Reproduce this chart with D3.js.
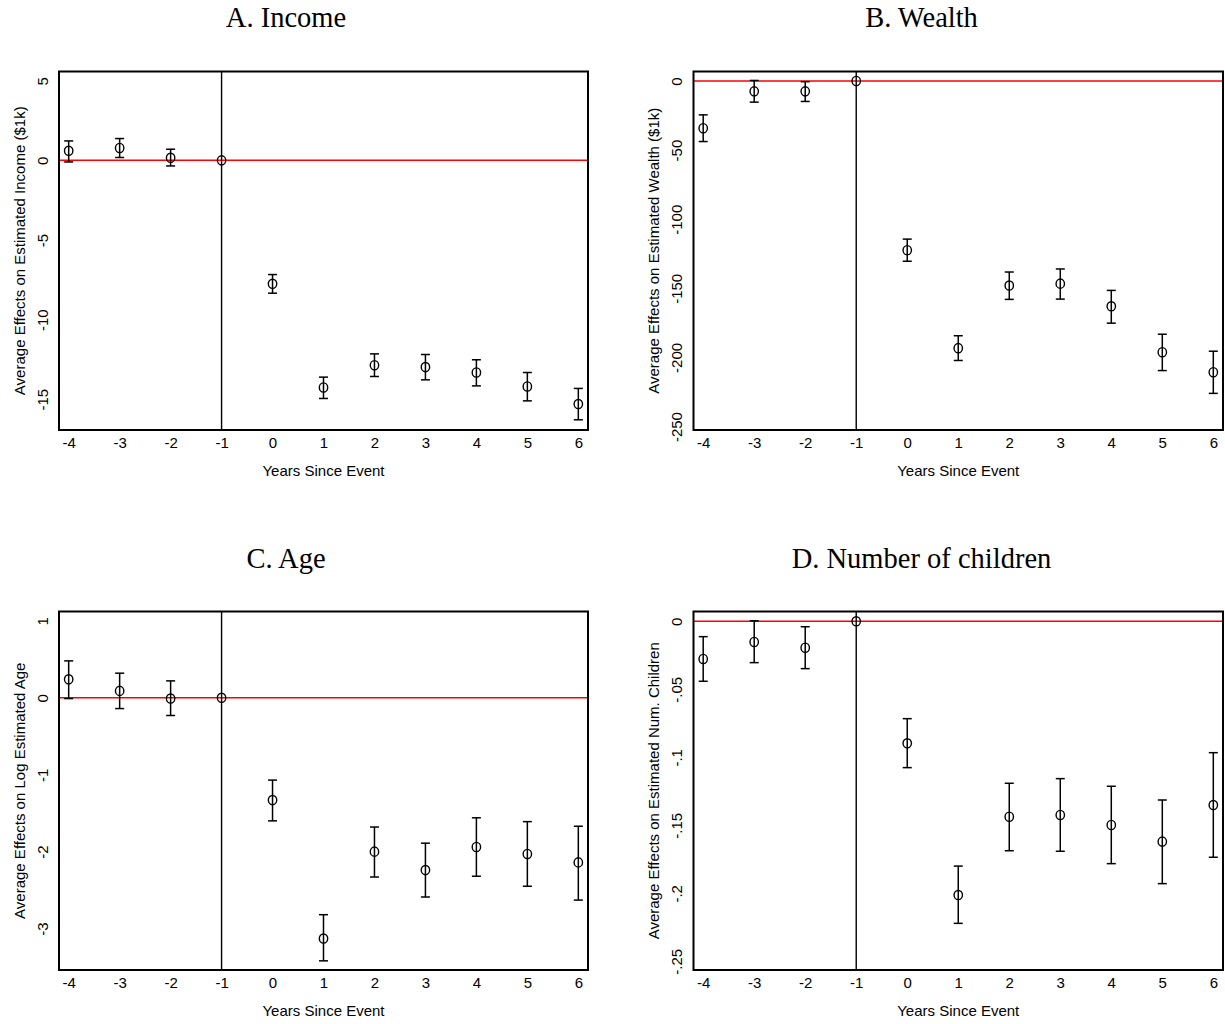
<!DOCTYPE html>
<html>
<head>
<meta charset="utf-8">
<script src="https://cdn.jsdelivr.net/npm/d3@7"></script>
<style>
  html, body { margin: 0; padding: 0; background: #fff; }
  svg { display: block; }
</style>
</head>
<body>
<svg id="chart" width="1225" height="1024"></svg>
<script>
// Event-study estimates, years relative to the event (-1 is the reference year)
const years = [-4, -3, -2, -1, 0, 1, 2, 3, 4, 5, 6];

const incomeEst = [0.6, 0.78, 0.16, 0, -7.75, -14.26, -12.86, -12.98, -13.32, -14.2, -15.3];
const incomeLo  = [-0.1, 0.18, -0.35, 0, -8.34, -14.95, -13.57, -13.78, -14.16, -15.1, -16.29];
const incomeHi  = [1.22, 1.37, 0.7, 0, -7.17, -13.61, -12.15, -12.19, -12.52, -13.32, -14.32];

const wealthEst = [-34.2, -7.5, -7.5, 0, -122.4, -193.3, -148, -146.6, -163, -196.2, -210.7];
const wealthLo  = [-43.8, -15.3, -14.8, 0, -130.4, -202.2, -158, -157.8, -175.2, -209.5, -226];
const wealthHi  = [-24.5, 0.4, -0.5, 0, -114.4, -184.3, -138.2, -136, -151.5, -183.2, -195.5];

const ageEst = [0.24, 0.09, -0.01, 0, -1.33, -3.13, -2.0, -2.24, -1.94, -2.03, -2.14];
const ageLo  = [-0.01, -0.14, -0.23, 0, -1.6, -3.42, -2.33, -2.59, -2.32, -2.45, -2.63];
const ageHi  = [0.48, 0.32, 0.22, 0, -1.07, -2.82, -1.68, -1.89, -1.56, -1.61, -1.67];

const kidsEst = [-0.0277, -0.0152, -0.0194, 0, -0.0897, -0.2013, -0.1437, -0.1424, -0.1498, -0.162, -0.1351];
const kidsLo  = [-0.0441, -0.0304, -0.0348, 0, -0.1076, -0.2221, -0.1687, -0.1691, -0.1782, -0.1929, -0.1735];
const kidsHi  = [-0.0113, 0.0004, -0.004, 0, -0.0716, -0.18, -0.1191, -0.1157, -0.1213, -0.1314, -0.0966];

const incomeTicks = [5, 0, -5, -10, -15];
const wealthTicks = [0, -50, -100, -150, -200, -250];
const ageTicks = [1, 0, -1, -2, -3];
const kidsTicks = [0, -0.05, -0.1, -0.15, -0.2, -0.25];
const kidsTickLabels = ["0", "-.05", "-.1", "-.15", "-.2", "-.25"];

const xTitle = "Years Since Event";

const panels = [
  { title: "A. Income", ytitle: "Average Effects on Estimated Income ($1k)",
    est: incomeEst, lo: incomeLo, hi: incomeHi, ticks: incomeTicks, labels: null,
    ydom: [-16.93, 5.58], box: [59, 71.5, 588, 430], tx: 286, ty: 27 },
  { title: "B. Wealth", ytitle: "Average Effects on Estimated Wealth ($1k)",
    est: wealthEst, lo: wealthLo, hi: wealthHi, ticks: wealthTicks, labels: null,
    ydom: [-252.5, 6.87], box: [693.5, 71.5, 1223, 430], tx: 921.5, ty: 27 },
  { title: "C. Age", ytitle: "Average Effects on Log Estimated Age",
    est: ageEst, lo: ageLo, hi: ageHi, ticks: ageTicks, labels: null,
    ydom: [-3.539, 1.122], box: [59, 611.5, 588, 970], tx: 286, ty: 568 },
  { title: "D. Number of children", ytitle: "Average Effects on Estimated Num. Children",
    est: kidsEst, lo: kidsLo, hi: kidsHi, ticks: kidsTicks, labels: kidsTickLabels,
    ydom: [-0.2564, 0.0072], box: [693.5, 611.5, 1223, 970], tx: 921.5, ty: 568 }
];

const svg = d3.select("#chart");
const sans = "'Liberation Sans', Arial, Helvetica, sans-serif";
const serif = "'Liberation Serif', 'Times New Roman', serif";
// plain hyphen-minus for negative labels
const plain = d => String(d);

panels.forEach(p => {
  const [x0, y0, x1, y1] = p.box;
  const x = d3.scaleLinear().domain([-4.19, 6.19]).range([x0, x1]);
  const y = d3.scaleLinear().domain(p.ydom).range([y1, y0]);
  const g = svg.append("g");

  // panel title
  g.append("text")
    .attr("x", p.tx).attr("y", p.ty)
    .attr("text-anchor", "middle")
    .style("font-family", serif).style("font-size", "28.5px")
    .text(p.title);

  // reference lines: zero effect (red) and the omitted year (black)
  g.append("line")
    .attr("x1", x0).attr("x2", x1).attr("y1", y(0)).attr("y2", y(0))
    .attr("stroke", "#ff0000").attr("stroke-width", 1.5);
  g.append("line")
    .attr("x1", x(-1)).attr("x2", x(-1)).attr("y1", y0).attr("y2", y1)
    .attr("stroke", "#000").attr("stroke-width", 1.4);

  // x axis labels (no tick marks)
  const xAxis = d3.axisBottom(x).tickValues(years).tickSize(0).tickPadding(0)
    .tickFormat(plain);
  const xa = g.append("g").attr("transform", `translate(0,${y1 + 18})`).call(xAxis);
  xa.select(".domain").remove();
  xa.selectAll("text").attr("dy", 0)
    .style("font-family", sans).style("font-size", "15px").attr("fill", "#000");

  // y axis labels, rotated, no tick marks
  const fmt = p.labels ? (d, i) => p.labels[i] : plain;
  const yAxis = d3.axisLeft(y).tickValues(p.ticks).tickSize(0).tickPadding(0).tickFormat(fmt);
  const ya = g.append("g").attr("transform", `translate(${x0 - 11.5},0)`).call(yAxis);
  ya.select(".domain").remove();
  ya.selectAll(".tick text")
    .attr("x", 0).attr("dy", 0)
    .attr("transform", "rotate(-90)")
    .attr("text-anchor", "middle")
    .style("font-family", sans).style("font-size", "15px").attr("fill", "#000");

  // axis titles
  g.append("text")
    .attr("x", (x0 + x1) / 2).attr("y", y1 + 46)
    .attr("text-anchor", "middle")
    .style("font-family", sans).style("font-size", "15px")
    .text(xTitle);
  g.append("text")
    .attr("transform", `translate(${x0 - 34.5},${(y0 + y1) / 2}) rotate(-90)`)
    .attr("text-anchor", "middle")
    .style("font-family", sans).style("font-size", "15px")
    .text(p.ytitle);

  // confidence intervals with caps
  const rows = years.map((yr, i) => ({ yr, est: p.est[i], lo: p.lo[i], hi: p.hi[i] }));
  const bars = rows.filter(d => d.hi !== d.lo);
  const cap = 4.5;
  g.selectAll(".ci").data(bars).enter().append("line")
    .attr("x1", d => x(d.yr)).attr("x2", d => x(d.yr))
    .attr("y1", d => y(d.lo)).attr("y2", d => y(d.hi))
    .attr("stroke", "#000").attr("stroke-width", 1.5);
  g.selectAll(".capHi").data(bars).enter().append("line")
    .attr("x1", d => x(d.yr) - cap).attr("x2", d => x(d.yr) + cap)
    .attr("y1", d => y(d.hi)).attr("y2", d => y(d.hi))
    .attr("stroke", "#000").attr("stroke-width", 1.5);
  g.selectAll(".capLo").data(bars).enter().append("line")
    .attr("x1", d => x(d.yr) - cap).attr("x2", d => x(d.yr) + cap)
    .attr("y1", d => y(d.lo)).attr("y2", d => y(d.lo))
    .attr("stroke", "#000").attr("stroke-width", 1.5);

  // point estimates
  g.selectAll(".pt").data(rows).enter().append("ellipse")
    .attr("cx", d => x(d.yr)).attr("cy", d => y(d.est))
    .attr("rx", 4.2).attr("ry", 4.6)
    .attr("fill", "none").attr("stroke", "#000").attr("stroke-width", 1.4);

  // plot frame
  g.append("rect")
    .attr("x", x0).attr("y", y0).attr("width", x1 - x0).attr("height", y1 - y0)
    .attr("fill", "none").attr("stroke", "#000").attr("stroke-width", 2);
});
</script>
</body>
</html>
